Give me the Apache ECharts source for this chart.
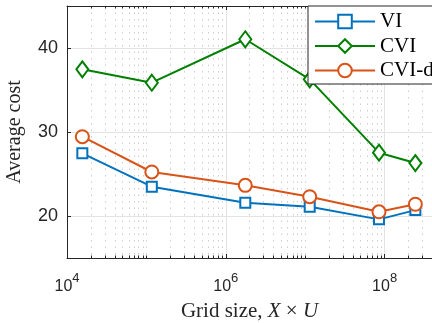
<!DOCTYPE html>
<html>
<head>
<meta charset="utf-8">
<script src="https://cdn.jsdelivr.net/npm/echarts@6/dist/echarts.min.js"></script>
<style>html,body{margin:0;padding:0;background:#fff;}#c{width:432px;height:323px;}</style>
</head>
<body>
<div id="c"></div>
<script>
// ---- data ----
const gridSizes = [1.56e4, 1.17e5, 1.76e6, 1.14e7, 8.5e7, 2.44e8];
const seriesNames = ['VI', 'CVI', 'CVI-d'];
const viCost = [27.46, 23.49, 21.58, 21.1, 19.6, 20.7];
const cviCost = [37.46, 35.87, 41.04, 36.27, 27.54, 26.3];
const cvidCost = [29.44, 25.24, 23.65, 22.3, 20.5, 21.4];
const xMajorTicks = [1e4, 1e6, 1e8];
const yTicks = [20, 30, 40];

const X_MIN = 1e4, X_MAX = Math.pow(10, 8.597);
const Y_MIN = 15, Y_MAX = 45;
const xMinorTicks = [];
for (let n = 4; n <= 8; n++) {
  for (let k = 1; k <= 9; k++) {
    const v = k * Math.pow(10, n);
    if (v <= X_MAX && xMajorTicks.indexOf(v) < 0) xMinorTicks.push(v);
  }
}

const axisColor = '#262626';
const sansFont = 'Liberation Sans';
const serifFont = 'Liberation Serif';

function pair(xs, ys) { return xs.map((x, i) => [x, ys[i]]); }

function xAxisBase(extra) {
  return Object.assign({
    type: 'log', logBase: 10, min: X_MIN, max: X_MAX,
    axisLine: { show: false, onZero: false },
    axisTick: { show: false },
    axisLabel: { show: false },
    splitLine: { show: false },
    minorTick: { show: false },
    minorSplitLine: { show: false }
  }, extra);
}

const chart = echarts.init(document.getElementById('c'), null, { renderer: 'canvas' });
chart.setOption({
  animation: false,
  backgroundColor: '#fff',
  grid: { left: 67, top: 6, right: 0, bottom: 65, containLabel: false, outerBoundsMode: 'none' },
  xAxis: [
    xAxisBase({
      position: 'bottom',
      axisLine: { show: true, onZero: false, lineStyle: { color: axisColor, width: 1 } },
      axisTick: { show: true, inside: true, length: 4, customValues: xMajorTicks, lineStyle: { color: axisColor } },
      axisLabel: {
        show: true, customValues: xMajorTicks, margin: 15,
        formatter: function (v) { return '{b|10}{s|' + Math.round(Math.log10(v)) + '}'; },
        rich: {
          b: { fontFamily: sansFont, fontSize: 16, color: axisColor, verticalAlign: 'bottom', lineHeight: 22 },
          s: { fontFamily: sansFont, fontSize: 13, color: axisColor, verticalAlign: 'bottom', lineHeight: 22, padding: [0, 0, 10, 0] }
        }
      },
      splitLine: { show: true, lineStyle: { color: '#e3e3e3', width: 1 } },
      name: 'Grid size, {i|X} × {i|U}',
      nameLocation: 'middle', nameGap: 43,
      nameTextStyle: {
        fontFamily: serifFont, fontSize: 21, color: '#262626',
        rich: { i: { fontFamily: serifFont, fontStyle: 'italic', fontSize: 21, color: '#262626' } }
      }
    }),
    xAxisBase({
      position: 'bottom',
      axisTick: { show: true, inside: true, length: 2.5, customValues: xMinorTicks, lineStyle: { color: axisColor } },
      splitLine: { show: true, lineStyle: { color: '#cdcdcd', width: 1, type: [1.5, 5] } }
    }),
    xAxisBase({
      position: 'top',
      axisLine: { show: true, onZero: false, lineStyle: { color: axisColor, width: 1 } },
      axisTick: { show: true, inside: true, length: 4, customValues: xMajorTicks, lineStyle: { color: axisColor } }
    }),
    xAxisBase({
      position: 'top',
      axisTick: { show: true, inside: true, length: 2.5, customValues: xMinorTicks, lineStyle: { color: axisColor } }
    })
  ],
  yAxis: [{
    type: 'value', min: Y_MIN, max: Y_MAX,
    axisLine: { show: true, onZero: false, lineStyle: { color: axisColor, width: 1 } },
    axisTick: { show: true, inside: true, length: 4, customValues: yTicks, lineStyle: { color: axisColor } },
    axisLabel: { customValues: yTicks, margin: 9, fontFamily: sansFont, fontSize: 18, color: axisColor },
    splitLine: { show: true, lineStyle: { color: '#e3e3e3', width: 1 } },
    name: 'Average cost', nameLocation: 'middle', nameGap: 42,
    nameTextStyle: { fontFamily: serifFont, fontSize: 20, color: '#262626' }
  }],
  legend: {
    orient: 'vertical', left: 308, top: 6,
    itemWidth: 60, itemHeight: 17, itemGap: 3.5,
    padding: [5, 70, 3, 6],
    backgroundColor: '#fff', borderColor: axisColor, borderWidth: 1, borderRadius: 0,
    textStyle: { fontFamily: serifFont, fontSize: 21, color: '#000', lineHeight: 21 },
    data: seriesNames
  },
  series: [
    {
      name: seriesNames[0], type: 'line', xAxisIndex: 0, yAxisIndex: 0,
      data: pair(gridSizes, viCost),
      symbol: 'rect', symbolSize: 10,
      lineStyle: { color: '#0072BD', width: 2 },
      itemStyle: { color: '#fff', borderColor: '#0072BD', borderWidth: 2 }
    },
    {
      name: seriesNames[1], type: 'line', xAxisIndex: 0, yAxisIndex: 0,
      data: pair(gridSizes, cviCost),
      symbol: 'diamond', symbolSize: [12, 16],
      lineStyle: { color: '#008000', width: 2 },
      itemStyle: { color: '#fff', borderColor: '#008000', borderWidth: 2 }
    },
    {
      name: seriesNames[2], type: 'line', xAxisIndex: 0, yAxisIndex: 0,
      data: pair(gridSizes, cvidCost),
      symbol: 'circle', symbolSize: 13,
      lineStyle: { color: '#D95319', width: 2 },
      itemStyle: { color: '#fff', borderColor: '#D95319', borderWidth: 2 }
    }
  ]
});
</script>
</body>
</html>
